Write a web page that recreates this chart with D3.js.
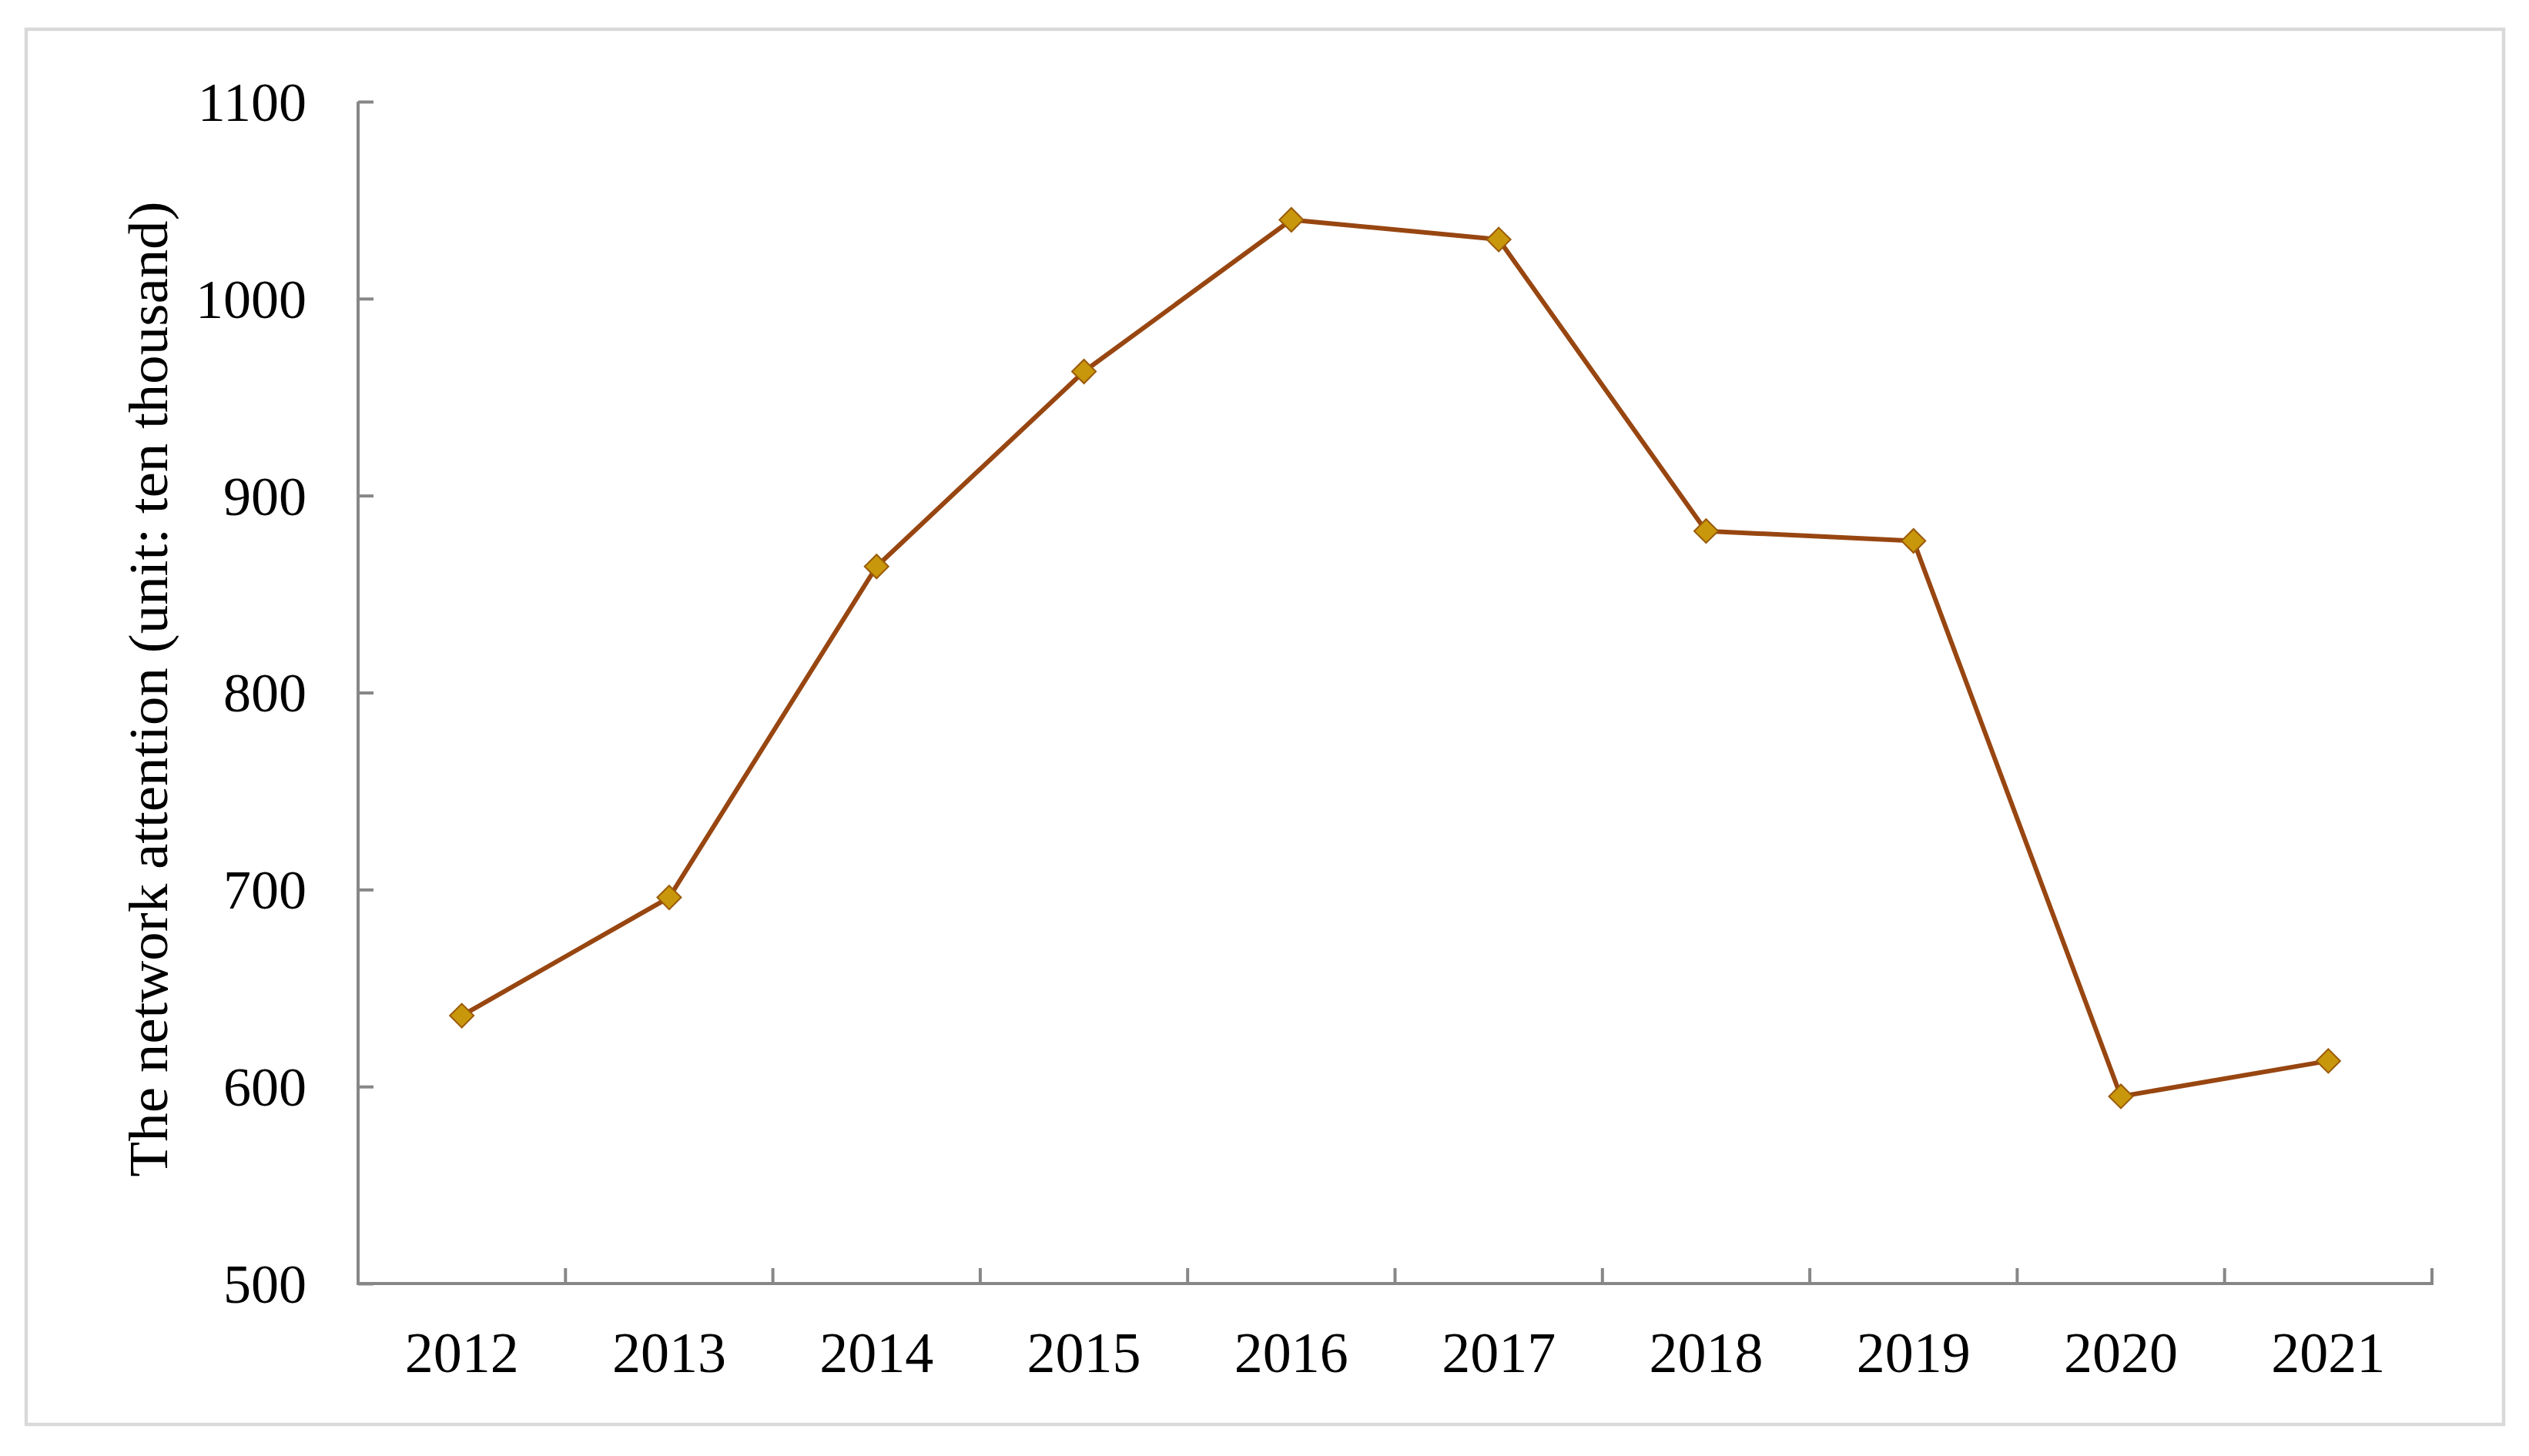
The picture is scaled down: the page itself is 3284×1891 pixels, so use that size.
<!DOCTYPE html>
<html>
<head>
<meta charset="utf-8">
<script src="https://cdn.jsdelivr.net/npm/d3@7"></script>
<style>
html,body{margin:0;padding:0;background:#fff;}
svg{display:block;}
</style>
</head>
<body>
<script>
const years = ["2012","2013","2014","2015","2016","2017","2018","2019","2020","2021"];
const attention = [636, 696, 864, 963, 1040, 1030, 882, 877, 595, 613];
const yTicks = [500, 600, 700, 800, 900, 1000, 1100];
const yTitle = "The network attention (unit: ten thousand)";

const W = 3284, H = 1891;
const plot = {left: 465, right: 3158, top: 132, bottom: 1667};
const font = "'Liberation Serif','Times New Roman',serif";

const svg = d3.select("body").append("svg").attr("width", W).attr("height", H);
svg.append("rect").attr("width", W).attr("height", H).attr("fill", "#fff");

// outer frame
svg.append("rect").attr("x", 34).attr("y", 38).attr("width", 3251 - 34).attr("height", 1850 - 38)
  .attr("fill", "none").attr("stroke", "#d9d9d9").attr("stroke-width", 4.5);

const x = d3.scaleBand().domain(years).range([plot.left, plot.right]).paddingInner(0).paddingOuter(0);
const y = d3.scaleLinear().domain([500, 1100]).range([plot.bottom, plot.top]);

const axisColor = "#878787";

// Y axis
const yAxis = svg.append("g").attr("transform", `translate(${plot.left},0)`)
  .call(d3.axisRight(y).tickValues(yTicks).tickSize(20).tickFormat(d3.format("d")));
yAxis.select(".domain").remove();
yAxis.selectAll(".tick line").attr("stroke", axisColor).attr("stroke-width", 4);
yAxis.selectAll(".tick text").attr("x", -67).attr("text-anchor", "end")
  .attr("dy", "0.34em")
  .attr("font-family", font).attr("font-size", 72).attr("fill", "#000");
yAxis.append("line").attr("x1", 0).attr("x2", 0).attr("y1", plot.top).attr("y2", plot.bottom)
  .attr("stroke", axisColor).attr("stroke-width", 4);

// X axis
const xg = svg.append("g").attr("transform", `translate(0,${plot.bottom})`);
xg.append("line").attr("x1", plot.left).attr("x2", plot.right).attr("y1", 0).attr("y2", 0)
  .attr("stroke", axisColor).attr("stroke-width", 4).attr("stroke-linecap", "square");
const boundaries = years.map(d => x(d) + x.bandwidth());
xg.selectAll("line.tk").data(boundaries).enter().append("line").attr("class", "tk")
  .attr("x1", d => d).attr("x2", d => d).attr("y1", 0).attr("y2", -20)
  .attr("stroke", axisColor).attr("stroke-width", 4);
xg.selectAll("text").data(years).enter().append("text")
  .attr("x", d => x(d) + x.bandwidth() / 2).attr("y", 115)
  .attr("text-anchor", "middle").attr("font-family", font).attr("font-size", 74).attr("fill", "#000")
  .text(d => d);

// Y title
svg.append("text")
  .attr("transform", `translate(193,895) rotate(-90)`)
  .attr("text-anchor", "middle").attr("dominant-baseline", "central")
  .attr("font-family", font).attr("font-size", 72).attr("fill", "#000")
  .attr("textLength", 1267).attr("lengthAdjust", "spacingAndGlyphs")
  .text(yTitle);

// line
const line = d3.line().x((d, i) => x(years[i]) + x.bandwidth() / 2).y(d => y(d));
svg.append("path").datum(attention).attr("d", line)
  .attr("fill", "none").attr("stroke", "#984611").attr("stroke-width", 6)
  .attr("stroke-linejoin", "round");

// markers
const sym = d3.symbol().type(d3.symbolSquare).size(480);
svg.selectAll("path.mk").data(attention).enter().append("path").attr("class", "mk")
  .attr("d", sym)
  .attr("transform", (d, i) => `translate(${x(years[i]) + x.bandwidth() / 2},${y(d)}) rotate(45)`)
  .attr("fill", "#c8970b").attr("stroke", "#9a5a0a").attr("stroke-width", 2);
</script>
</body>
</html>
